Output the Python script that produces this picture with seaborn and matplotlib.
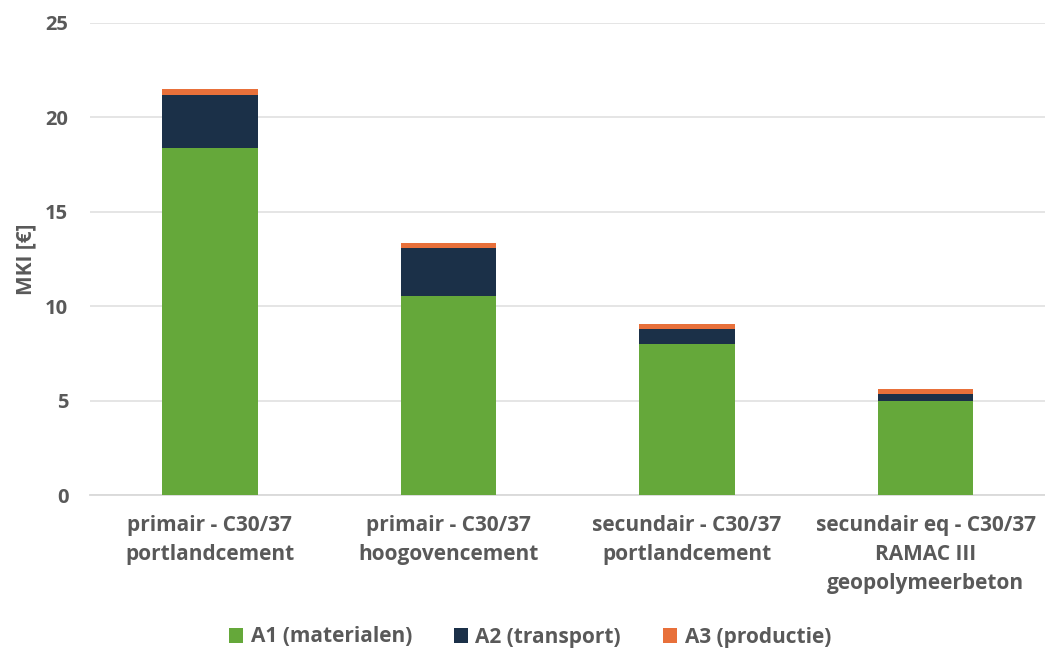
import numpy as np
import pandas as pd
import matplotlib
matplotlib.use("Agg")
import matplotlib.pyplot as plt
import seaborn as sns
from matplotlib.patches import Patch

categories = [
    "primair - C30/37\nportlandcement",
    "primair - C30/37\nhoogovencement",
    "secundair - C30/37\nportlandcement",
    "secundair eq - C30/37\nRAMAC III\ngeopolymeerbeton",
]
a1_materialen = [18.35, 10.55, 8.0, 5.0]
a2_transport = [2.85, 2.55, 0.78, 0.35]
a3_productie = [0.3, 0.27, 0.27, 0.28]
series_names = ["A1 (materialen)", "A2 (transport)", "A3 (productie)"]
y_ticks = [0, 5, 10, 15, 20, 25]

colors = ["#65A83A", "#1B3048", "#E8703A"]
text_color = "#595959"
grid_color = "#E3E3E3"

sns.set_theme(style="white")
plt.rcParams["font.family"] = ["Open Sans", "DejaVu Sans"]

fig = plt.figure(figsize=(10.45, 6.5), dpi=100)
ax = fig.add_axes([0.0866, 0.238, 0.9134, 0.727])

lvl1 = np.array(a1_materialen)
lvl2 = lvl1 + np.array(a2_transport)
lvl3 = lvl2 + np.array(a3_productie)

for vals, col in zip([lvl3, lvl2, lvl1], colors[::-1]):
    df = pd.DataFrame({"cat": categories, "val": vals})
    sns.barplot(data=df, x="cat", y="val", color=col, width=0.4,
                saturation=1, ax=ax, zorder=3, linewidth=0)

ax.set_xlim(-0.5, 3.5)
ax.set_ylim(0, 25)
ax.set_yticks(y_ticks)
ax.set_yticklabels([str(t) for t in y_ticks], fontsize=14.5, fontweight="bold", color=text_color)
ax.set_xticks(range(len(categories)))
ax.set_xticklabels(categories, fontsize=15, fontweight="bold", color=text_color, linespacing=1.5)
ax.tick_params(axis="y", length=0, pad=16)
ax.tick_params(axis="x", length=0, pad=14)
ax.set_xlabel("")
ax.set_ylabel("MKI [€]", fontsize=15, fontweight="bold", color=text_color, labelpad=6)
ax.yaxis.grid(True, color=grid_color, linewidth=1.3, zorder=0)
ax.set_axisbelow(True)
for s in ["top", "right", "left"]:
    ax.spines[s].set_visible(False)
ax.spines["bottom"].set_color("#D9D9D9")
ax.spines["bottom"].set_linewidth(1.3)

handles = [Patch(facecolor=c, edgecolor="none", label=n) for c, n in zip(colors, series_names)]
fig.legend(handles=handles, loc="center", bbox_to_anchor=(0.507, 0.02), ncol=3, frameon=False,
           prop={"family": ["Open Sans", "DejaVu Sans"], "weight": "bold", "size": 15},
           labelcolor=text_color, handlelength=0.7, handleheight=0.7, handletextpad=0.35,
           columnspacing=2.0)

fig.savefig("out.png", dpi=100, facecolor="white")
